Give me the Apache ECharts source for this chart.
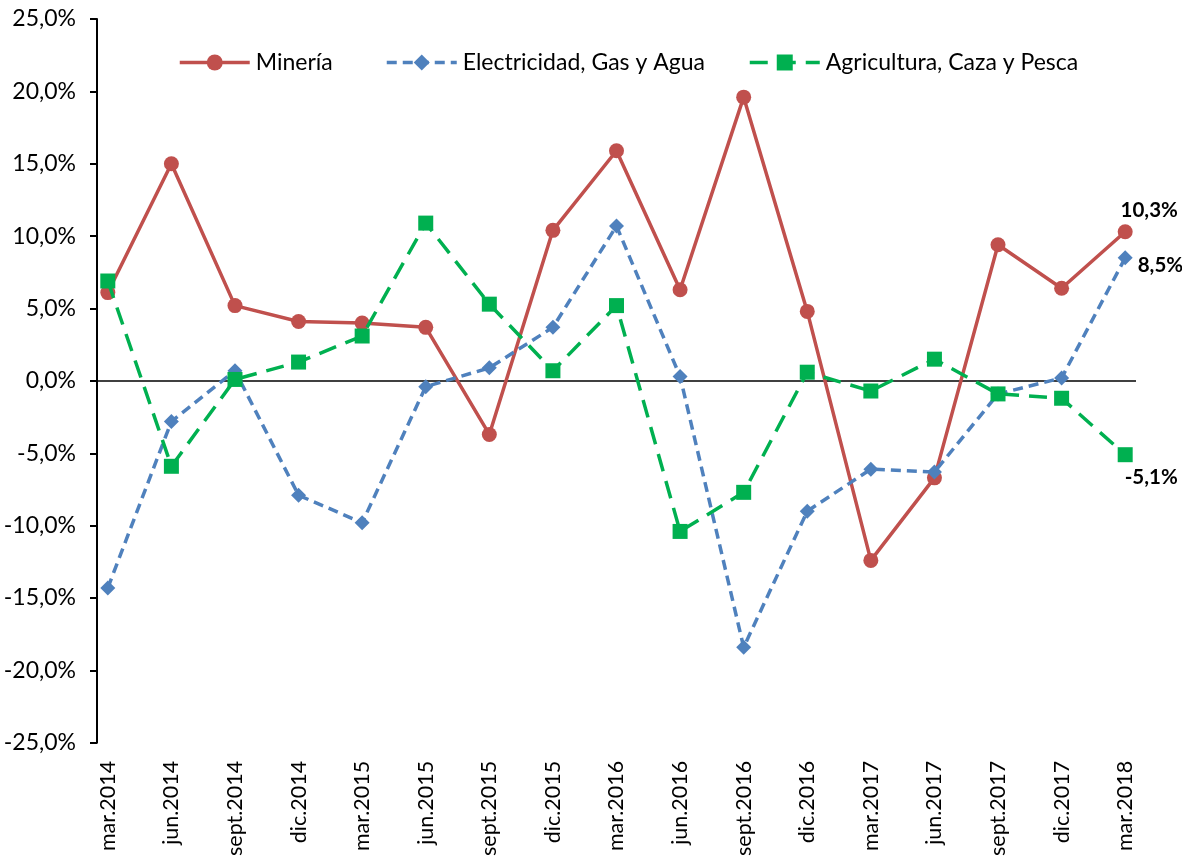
<!DOCTYPE html>
<html><head><meta charset="utf-8">
<script src="https://cdn.jsdelivr.net/npm/echarts@6/dist/echarts.min.js"></script>
<style>html,body{margin:0;padding:0;background:#fff}#c{width:1182px;height:859px}</style>
</head><body><div id="c"></div>
<script>
const categories = ["mar.2014","jun.2014","sept.2014","dic.2014","mar.2015","jun.2015","sept.2015","dic.2015","mar.2016","jun.2016","sept.2016","dic.2016","mar.2017","jun.2017","sept.2017","dic.2017","mar.2018"];
const mineria = [6.1,15.0,5.2,4.1,4.0,3.7,-3.7,10.4,15.9,6.3,19.6,4.8,-12.4,-6.7,9.4,6.4,10.3];
const electricidad = [-14.3,-2.8,0.7,-7.9,-9.8,-0.4,0.9,3.7,10.7,0.3,-18.4,-9.0,-6.1,-6.3,-0.9,0.2,8.5];
const agricultura = [6.9,-5.9,0.1,1.3,3.1,10.9,5.3,0.7,5.2,-10.4,-7.7,0.6,-0.7,1.5,-0.9,-1.2,-5.1];
const seriesNames = ['Minería', 'Electricidad, Gas y Agua', 'Agricultura, Caza y Pesca'];

const FONT = 'Lato';
const fmt = v => v.toFixed(1).replace('.', ',') + '%';
const toXY = arr => arr.map((v, i) => [i, v]);
const lastLabel = (arr, pos, dx, dy) => ({
  show: true, position: pos, offset: [dx, dy],
  formatter: p => p.dataIndex === arr.length - 1 ? fmt(p.value[1]) : '',
  fontFamily: FONT, fontWeight: 'bold', fontSize: 20.5, color: '#000'
});
const legendAt = (name, left) => ({
  top: 46, left: left, itemWidth: 70, itemHeight: 20, itemGap: 0,
  lineStyle: {width: 3.5},
  textStyle: {fontFamily: FONT, fontSize: 23, color: '#000', padding: [0, 0, 0, 1]},
  data: [name]
});

const chart = echarts.init(document.getElementById('c'), null, {renderer: 'canvas'});
chart.setOption({
  animation: false,
  backgroundColor: '#fff',
  textStyle: {fontFamily: FONT},
  grid: {left: 97, right: 46, top: 19, bottom: 114, containLabel: false},
  legend: [legendAt(seriesNames[0], 173), legendAt(seriesNames[1], 380), legendAt(seriesNames[2], 743)],
  xAxis: {
    type: 'value', min: -0.17, max: 16.17,
    axisLine: {show: false}, axisTick: {show: false}, splitLine: {show: false},
    axisLabel: {
      customValues: categories.map((c, i) => i),
      formatter: v => categories[Math.round(v)],
      rotate: 90, fontFamily: FONT, fontSize: 21.5, color: '#000', margin: 18,
      showMinLabel: true, showMaxLabel: true
    }
  },
  yAxis: {
    type: 'value', min: -25, max: 25, interval: 5,
    axisLine: {show: true, onZero: false, lineStyle: {color: '#000', width: 2}},
    axisTick: {show: true, inside: false, length: 7, lineStyle: {color: '#000', width: 2}},
    splitLine: {show: false},
    axisLabel: {formatter: v => fmt(v), fontFamily: FONT, fontSize: 23, color: '#000', margin: 21}
  },
  series: [
    {
      name: seriesNames[0], type: 'line', data: toXY(mineria),
      symbol: 'circle', symbolSize: 15,
      lineStyle: {color: '#C0504D', width: 3.5},
      itemStyle: {color: '#C0504D'},
      label: lastLabel(mineria, 'top', 24, 2),
      markLine: {
        silent: true, symbol: 'none', label: {show: false},
        lineStyle: {color: '#000', width: 1.5, type: 'solid'},
        data: [{yAxis: 0}], z: 1
      },
      z: 3
    },
    {
      name: seriesNames[1], type: 'line', data: toXY(electricidad),
      symbol: 'diamond', symbolSize: 15,
      lineStyle: {color: '#4F81BD', width: 3.5, type: [10, 6]},
      itemStyle: {color: '#4F81BD'},
      label: lastLabel(electricidad, 'right', 0, 8),
      z: 4
    },
    {
      name: seriesNames[2], type: 'line', data: toXY(agricultura),
      symbol: 'rect', symbolSize: 15,
      lineStyle: {color: '#00B050', width: 3.5, type: [18, 10]},
      itemStyle: {color: '#00B050'},
      label: lastLabel(agricultura, 'bottom', 26, 0),
      z: 5
    }
  ]
});
</script></body></html>
